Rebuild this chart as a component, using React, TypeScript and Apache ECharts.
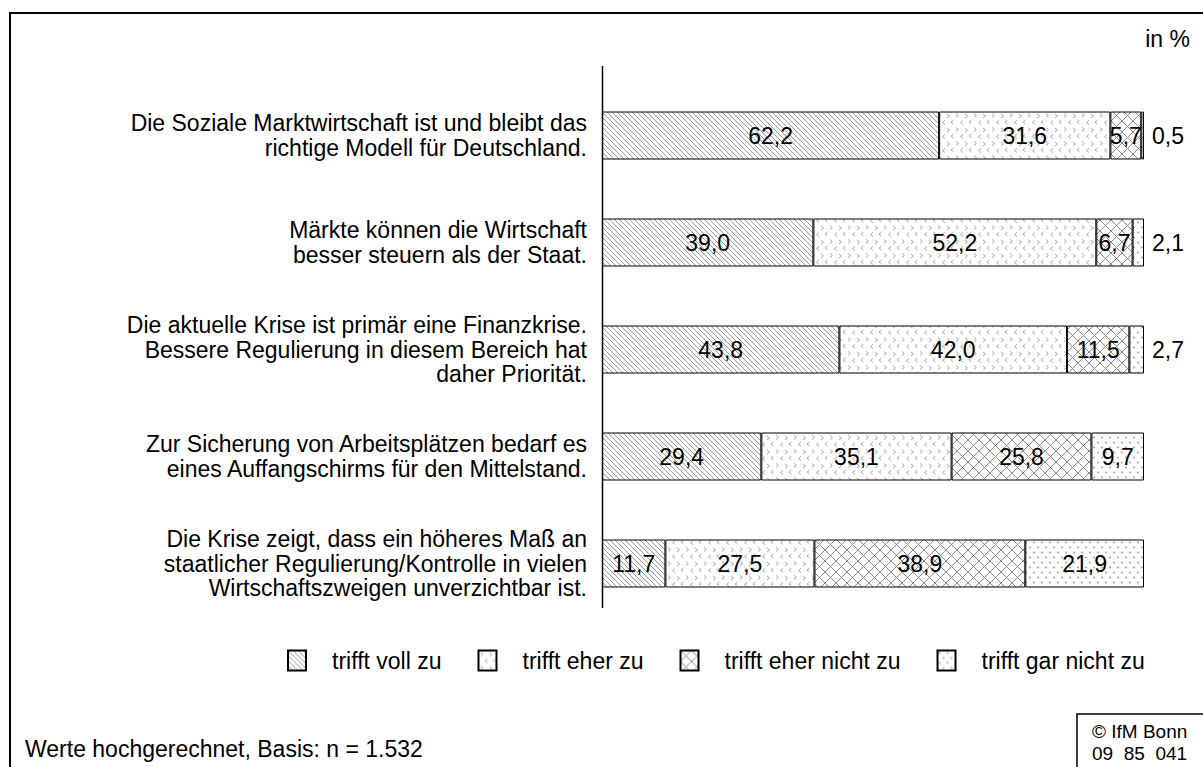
import React, { useEffect, useRef } from "react";
import * as echarts from "echarts";

const categories = [
  "Die Soziale Marktwirtschaft ist und bleibt das\nrichtige Modell für Deutschland.",
  "Märkte können die Wirtschaft\nbesser steuern als der Staat.",
  "Die aktuelle Krise ist primär eine Finanzkrise.\nBessere Regulierung in diesem Bereich hat\ndaher Priorität.",
  "Zur Sicherung von Arbeitsplätzen bedarf es\neines Auffangschirms für den Mittelstand.",
  "Die Krise zeigt, dass ein höheres Maß an\nstaatlicher Regulierung/Kontrolle in vielen\nWirtschaftszweigen unverzichtbar ist.",
];
const seriesNames = ["trifft voll zu", "trifft eher zu", "trifft eher nicht zu", "trifft gar nicht zu"];
const trifftVoll = [62.2, 39.0, 43.8, 29.4, 11.7];
const trifftEher = [31.6, 52.2, 42.0, 35.1, 27.5];
const trifftEherNicht = [5.7, 6.7, 11.5, 25.8, 38.9];
const trifftGarNicht = [0.5, 2.1, 2.7, 9.7, 21.9];

const FONT = 'Arial, "Liberation Sans", sans-serif';
const FS = 23;

function makeTile(w: number, h: number, draw: (ctx: CanvasRenderingContext2D) => void) {
  const c = document.createElement("canvas");
  c.width = w;
  c.height = h;
  const ctx = c.getContext("2d")!;
  ctx.fillStyle = "#ffffff";
  ctx.fillRect(0, 0, w, h);
  draw(ctx);
  return { image: c, repeat: "repeat", imageWidth: w, imageHeight: h } as any;
}

function patterns() {
  const diag = makeTile(5, 5, (ctx) => {
    ctx.strokeStyle = "#999999";
    ctx.lineWidth = 1;
    for (let k = -1; k <= 1; k++) {
      ctx.beginPath();
      ctx.moveTo(k * 5 - 1, -1);
      ctx.lineTo(k * 5 + 6, 6);
      ctx.stroke();
    }
  });
  const chev = makeTile(18, 14, (ctx) => {
    ctx.strokeStyle = "#a8a8a8";
    ctx.lineWidth = 1;
    const gt = (x: number, y: number) => {
      ctx.beginPath();
      ctx.moveTo(x, y);
      ctx.lineTo(x + 2.5, y + 2);
      ctx.lineTo(x, y + 4);
      ctx.stroke();
    };
    const lt = (x: number, y: number) => {
      ctx.beginPath();
      ctx.moveTo(x + 2.5, y);
      ctx.lineTo(x, y + 2);
      ctx.lineTo(x + 2.5, y + 4);
      ctx.stroke();
    };
    gt(2, 1.5);
    gt(11, 2);
    lt(6.5, 8.5);
    lt(15, 8);
  });
  const cross = makeTile(11, 11, (ctx) => {
    ctx.strokeStyle = "#8a8a8a";
    ctx.lineWidth = 1;
    for (let k = -1; k <= 1; k++) {
      ctx.beginPath();
      ctx.moveTo(k * 11, 0);
      ctx.lineTo(k * 11 + 11, 11);
      ctx.stroke();
      ctx.beginPath();
      ctx.moveTo(k * 11 + 11, 0);
      ctx.lineTo(k * 11, 11);
      ctx.stroke();
    }
  });
  const dots = makeTile(8, 10, (ctx) => {
    ctx.fillStyle = "#999999";
    ctx.beginPath();
    ctx.arc(2, 2.5, 0.9, 0, Math.PI * 2);
    ctx.fill();
    ctx.beginPath();
    ctx.arc(6, 7.5, 0.9, 0, Math.PI * 2);
    ctx.fill();
  });
  return [diag, chev, cross, dots];
}

const fmt = (v: number) => v.toFixed(1).replace(".", ",");

export default function App() {
  const ref = useRef<HTMLDivElement>(null);
  useEffect(() => {
    if (!ref.current) return;
    const chart = echarts.init(ref.current, undefined, { renderer: "svg" });
    const pats = patterns();
    const values = [trifftVoll, trifftEher, trifftEherNicht, trifftGarNicht];
    const gridLeft = 602;
    const gridWidth = 542;
    const series = values.map((vals, si) => ({
      name: seriesNames[si],
      type: "bar",
      stack: "total",
      barWidth: 48,
      itemStyle: { color: pats[si], borderColor: "#000", borderWidth: 1 },
      label: {
        show: true,
        position: "inside",
        color: "#000",
        fontSize: FS,
        fontFamily: FONT,
        formatter: (p: any) => fmt(p.value),
      },
      data: vals.map((v) =>
        si === 3 && v < 5
          ? { value: v, label: { position: "right", distance: 8 } }
          : { value: v }
      ),
    }));
    chart.setOption({
      animation: false,
      backgroundColor: "#fff",
      grid: { left: gridLeft, width: gridWidth, top: 82, height: 535 },
      xAxis: { type: "value", min: 0, max: 100, show: false },
      yAxis: {
        type: "category",
        inverse: true,
        data: categories,
        axisLine: { show: false },
        axisTick: { show: false },
        axisLabel: {
          color: "#000",
          fontSize: FS,
          fontFamily: FONT,
          lineHeight: 24.5,
          align: "right",
          margin: 15,
        },
      },
      legend: {
        left: 287,
        top: 649,
        padding: 0,
        itemWidth: 18,
        itemHeight: 20,
        itemGap: 36,
        icon: "rect",
        textStyle: { color: "#000", fontSize: FS, fontFamily: FONT, padding: [0, 0, 0, 21] },
        data: seriesNames,
      },
      graphic: [
        {
          type: "rect",
          shape: { x: 10, y: 13, width: 1210, height: 800 },
          style: { fill: "none", stroke: "#000", lineWidth: 2 },
          silent: true,
        },
        {
          type: "line",
          shape: { x1: gridLeft + 0.5, y1: 66, x2: gridLeft + 0.5, y2: 608 },
          style: { stroke: "#000", lineWidth: 1.5 },
          z: 10,
        },
        {
          type: "text",
          right: 13,
          top: 27,
          style: { text: "in %", fontSize: FS, fontFamily: FONT, fill: "#000" },
        },
        {
          type: "text",
          left: 25,
          top: 737,
          style: { text: "Werte hochgerechnet, Basis: n = 1.532", fontSize: FS, fontFamily: FONT, fill: "#000" },
        },
        {
          type: "rect",
          shape: { x: 1077, y: 714, width: 200, height: 100 },
          style: { fill: "#fff", stroke: "#000", lineWidth: 1.5 },
        },
        {
          type: "text",
          left: 1092,
          top: 720,
          style: { text: "© IfM Bonn\n09  85  041", fontSize: 19, lineHeight: 22, fontFamily: FONT, fill: "#000" },
        },
      ],
      series,
    });
    return () => chart.dispose();
  }, []);
  return (
    <div
      ref={ref}
      style={{ position: "fixed", left: 0, top: 0, width: 1203, height: 767, background: "#fff" }}
    />
  );
}
